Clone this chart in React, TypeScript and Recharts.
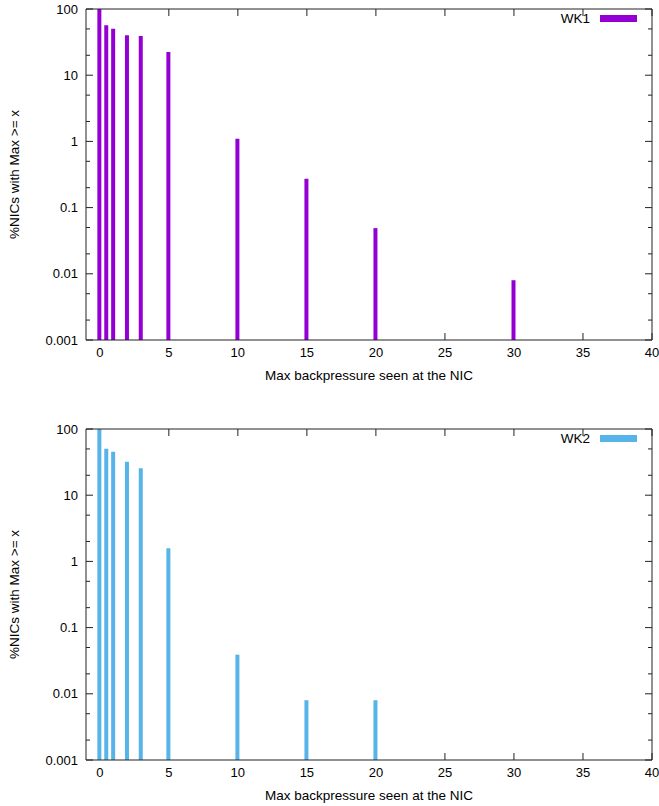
import { ComposedChart, Bar, XAxis, YAxis, Legend } from 'recharts';

const wk1Backpressure = [0, 0.5, 1, 2, 3, 5, 10, 15, 20, 30];
const wk1Percent = [100, 57, 50.5, 40, 39, 22.5, 1.1, 0.273, 0.049, 0.008];

const wk2Backpressure = [0, 0.5, 1, 2, 3, 5, 10, 15, 20];
const wk2Percent = [100, 50.5, 45.5, 32, 25.5, 1.58, 0.039, 0.008, 0.008];

const xTicks = [0, 5, 10, 15, 20, 25, 30, 35, 40];
const yMajorTicks = [0.001, 0.01, 0.1, 1, 10, 100];
const yMinorTicks = [0.002, 0.005, 0.02, 0.05, 0.2, 0.5, 2, 5, 20, 50];
const yTickLabels = ['0.001', '0.01', '0.1', '1', '10', '100'];

const yTicks = [...yMajorTicks, ...yMinorTicks].sort((a, b) => a - b);

const FONT = '"Liberation Sans", Arial, Helvetica, sans-serif';
const AXIS = '#222';
const GAP = 8;

const labelFor = (v: number) => {
  const i = yMajorTicks.findIndex((m) => Math.abs(m - v) / m < 1e-6);
  return i >= 0 ? yTickLabels[i] : null;
};

// gnuplot style: tick marks point into the plot
const LeftTick = (props: any) => {
  const { x, y, payload } = props;
  const label = labelFor(payload.value);
  const len = label ? 7 : 4;
  return (
    <g>
      <line x1={x + GAP} x2={x + GAP + len} y1={y} y2={y} stroke={AXIS} />
      {label && (
        <text x={x} y={y} dy="0.35em" textAnchor="end" fontSize={13} fontFamily={FONT} fill="#000">
          {label}
        </text>
      )}
    </g>
  );
};

const RightTick = (props: any) => {
  const { x, y, payload } = props;
  const len = labelFor(payload.value) ? 7 : 4;
  return <line x1={x - GAP} x2={x - GAP - len} y1={y} y2={y} stroke={AXIS} />;
};

// bars are drawn over the tick marks in the original, so skip marks a bar hides
const makeBottomTick = (covered: number[]) => (props: any) => {
  const { x, y, payload } = props;
  const hidden = covered.includes(payload.value);
  return (
    <g>
      {!hidden && <line x1={x} x2={x} y1={y - GAP} y2={y - GAP - 7} stroke={AXIS} />}
      <text x={x} y={y} dy="0.71em" textAnchor="middle" fontSize={13} fontFamily={FONT} fill="#000">
        {payload.value}
      </text>
    </g>
  );
};

const makeTopTick = (covered: number[]) => (props: any) => {
  const { x, y, payload } = props;
  if (covered.includes(payload.value)) return <g />;
  return <line x1={x} x2={x} y1={y + GAP} y2={y + GAP + 7} stroke={AXIS} />;
};

const LegendBox = ({ name, color }: { name: string; color: string }) => (
  <div style={{ display: 'flex', alignItems: 'center', fontFamily: FONT, fontSize: 13.5 }}>
    <span style={{ marginRight: 10 }}>{name}</span>
    <span style={{ display: 'inline-block', width: 37, height: 7, background: color }} />
  </div>
);

function BackpressurePanel({
  xs,
  ys,
  name,
  color,
  top,
  bottom,
}: {
  xs: number[];
  ys: number[];
  name: string;
  color: string;
  top: number;
  bottom: number;
}) {
  const data = xs.map((x, i) => ({ x, pct: ys[i] }));
  const fullHeight = xs.filter((_, i) => ys[i] >= 80);
  return (
    <ComposedChart
      width={659}
      height={403}
      data={data}
      margin={{ top, right: 6, bottom, left: 0 }}
      style={{ fontFamily: FONT }}
    >
      <XAxis
        xAxisId="bottom"
        dataKey="x"
        type="number"
        domain={[-1, 40]}
        ticks={xTicks}
        interval={0}
        height={43}
        tickSize={0}
        tickMargin={GAP}
        tickLine={false}
        tick={makeBottomTick(xs)}
        axisLine={{ stroke: AXIS }}
        allowDataOverflow
        label={{
          value: 'Max backpressure seen at the NIC',
          position: 'insideBottom',
          offset: 3,
          fill: '#000',
          fontSize: 13.5,
          fontFamily: FONT,
        }}
      />
      <XAxis
        xAxisId="top"
        orientation="top"
        dataKey="x"
        type="number"
        domain={[-1, 40]}
        ticks={xTicks}
        interval={0}
        height={1}
        tickSize={0}
        tickMargin={GAP}
        tickLine={false}
        tick={makeTopTick(fullHeight)}
        axisLine={{ stroke: AXIS }}
        allowDataOverflow
      />
      <YAxis
        yAxisId="left"
        scale="log"
        domain={[0.001, 100]}
        ticks={yTicks}
        interval={0}
        width={86}
        tickSize={0}
        tickMargin={GAP}
        tickLine={false}
        tick={LeftTick}
        axisLine={{ stroke: AXIS }}
        allowDataOverflow
        label={{
          value: '%NICs with Max >= x',
          angle: -90,
          position: 'insideLeft',
          offset: 14,
          fill: '#000',
          fontSize: 13.5,
          fontFamily: FONT,
          style: { textAnchor: 'middle' },
        }}
      />
      <YAxis
        yAxisId="right"
        orientation="right"
        scale="log"
        domain={[0.001, 100]}
        ticks={yTicks}
        interval={0}
        width={1}
        tickSize={0}
        tickMargin={GAP}
        tickLine={false}
        tick={RightTick}
        axisLine={{ stroke: AXIS }}
        allowDataOverflow
      />
      <Legend
        layout="vertical"
        verticalAlign="middle"
        align="center"
        wrapperStyle={{ top: top + 3, right: 22, left: 'auto', width: 'auto' }}
        content={() => <LegendBox name={name} color={color} />}
      />
      <Bar
        xAxisId="bottom"
        yAxisId="left"
        dataKey="pct"
        name={name}
        fill={color}
        barSize={4}
        isAnimationActive={false}
      />
    </ComposedChart>
  );
}

export default function App() {
  return (
    <div style={{ position: 'absolute', left: 0, top: 0, width: 659, height: 806, background: '#fff' }}>
      <BackpressurePanel xs={wk1Backpressure} ys={wk1Percent} name="WK1" color="#9400D3" top={8} bottom={20} />
      <BackpressurePanel xs={wk2Backpressure} ys={wk2Percent} name="WK2" color="#56B4E9" top={25} bottom={3} />
    </div>
  );
}
